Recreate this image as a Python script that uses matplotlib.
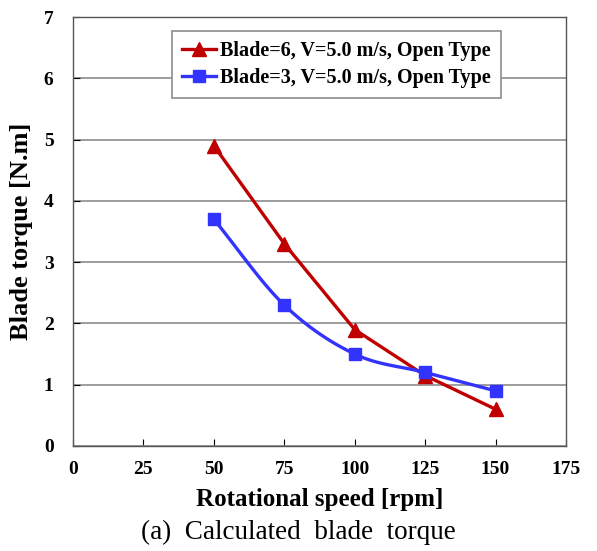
import numpy as np
import matplotlib
matplotlib.use("Agg")
import matplotlib.pyplot as plt

plt.rcParams['font.family'] = ['Liberation Serif', 'DejaVu Serif']

speed = [50, 75, 100, 125, 150]
torque_b6 = [4.9, 3.3, 1.9, 1.15, 0.6]
torque_b3 = [3.7, 2.3, 1.5, 1.2, 0.9]
label_b6 = 'Blade=6, V=5.0 m/s, Open Type'
label_b3 = 'Blade=3, V=5.0 m/s, Open Type'
xticks = [0, 25, 50, 75, 100, 125, 150, 175]
yticks = [0, 1, 2, 3, 4, 5, 6, 7]


def smooth(x, y, n=30):
    # catmull-rom through the points, like excel's smoothed line
    x = np.asarray(x, float)
    y = np.asarray(y, float)
    px = np.concatenate([[2 * x[0] - x[1]], x, [2 * x[-1] - x[-2]]])
    py = np.concatenate([[2 * y[0] - y[1]], y, [2 * y[-1] - y[-2]]])
    xs, ys = [], []
    t = np.linspace(0, 1, n)
    for i in range(1, len(px) - 2):
        for p, out in ((px, xs), (py, ys)):
            p0, p1, p2, p3 = p[i - 1], p[i], p[i + 1], p[i + 2]
            out.extend(0.5 * (2 * p1 + (-p0 + p2) * t
                              + (2 * p0 - 5 * p1 + 4 * p2 - p3) * t ** 2
                              + (-p0 + 3 * p1 - 3 * p2 + p3) * t ** 3))
    return xs, ys


fig = plt.figure(figsize=(5.97, 5.51), dpi=100)
ax = fig.add_axes([0.1223, 0.1906, 0.8257, 0.7785])

red = '#c00000'
blue = '#3333ff'

ax.plot(speed, torque_b6, color=red, lw=2.4, zorder=3)
ax.plot(speed, torque_b6, '^', color=red, ms=10, zorder=4)
sx, sy = smooth(speed, torque_b3)
ax.plot(sx, sy, color=blue, lw=2.4, zorder=3)
ax.plot(speed, torque_b3, 's', color=blue, ms=9, zorder=4)

# legend handles
ax.plot([], [], '-^', color=red, lw=2.4, ms=10, label=label_b6)
ax.plot([], [], '-s', color=blue, lw=2.4, ms=9, label=label_b3)

ax.set_xlim(0, 175)
ax.set_ylim(0, 7)
ax.set_xticks(xticks)
ax.set_yticks(yticks)
ax.yaxis.grid(True, color='#8c8c8c', lw=1.2)
ax.set_axisbelow(True)
ax.tick_params(direction='in', length=5, color='black', labelsize=14)
ax.tick_params(axis='x', pad=11)
ax.tick_params(axis='y', pad=14)
for lab in ax.get_xticklabels() + ax.get_yticklabels():
    lab.set_fontweight('bold')
for s in ax.spines.values():
    s.set_color('#555555')
    s.set_linewidth(1.0)

ax.set_xlabel('Rotational speed [rpm]', fontsize=18, fontweight='bold', labelpad=7)
ax.set_ylabel('Blade torque [N.m]', fontsize=19, fontweight='bold', labelpad=8)

h, l = ax.get_legend_handles_labels()
leg = ax.legend(h[-2:], l[-2:], loc='upper left', bbox_to_anchor=(0.2, 0.967),
                prop={'weight': 'bold', 'size': 14.5}, fancybox=False,
                edgecolor='#8c8c8c', framealpha=1, handlelength=1.7,
                handletextpad=0.2, borderpad=0.5, labelspacing=0.35,
                borderaxespad=0)
leg.get_frame().set_linewidth(1.2)

fig.text(0.5, 0.022, '(a)  Calculated  blade  torque', ha='center',
         fontsize=19.5)

fig.savefig('out.png', dpi=100)
